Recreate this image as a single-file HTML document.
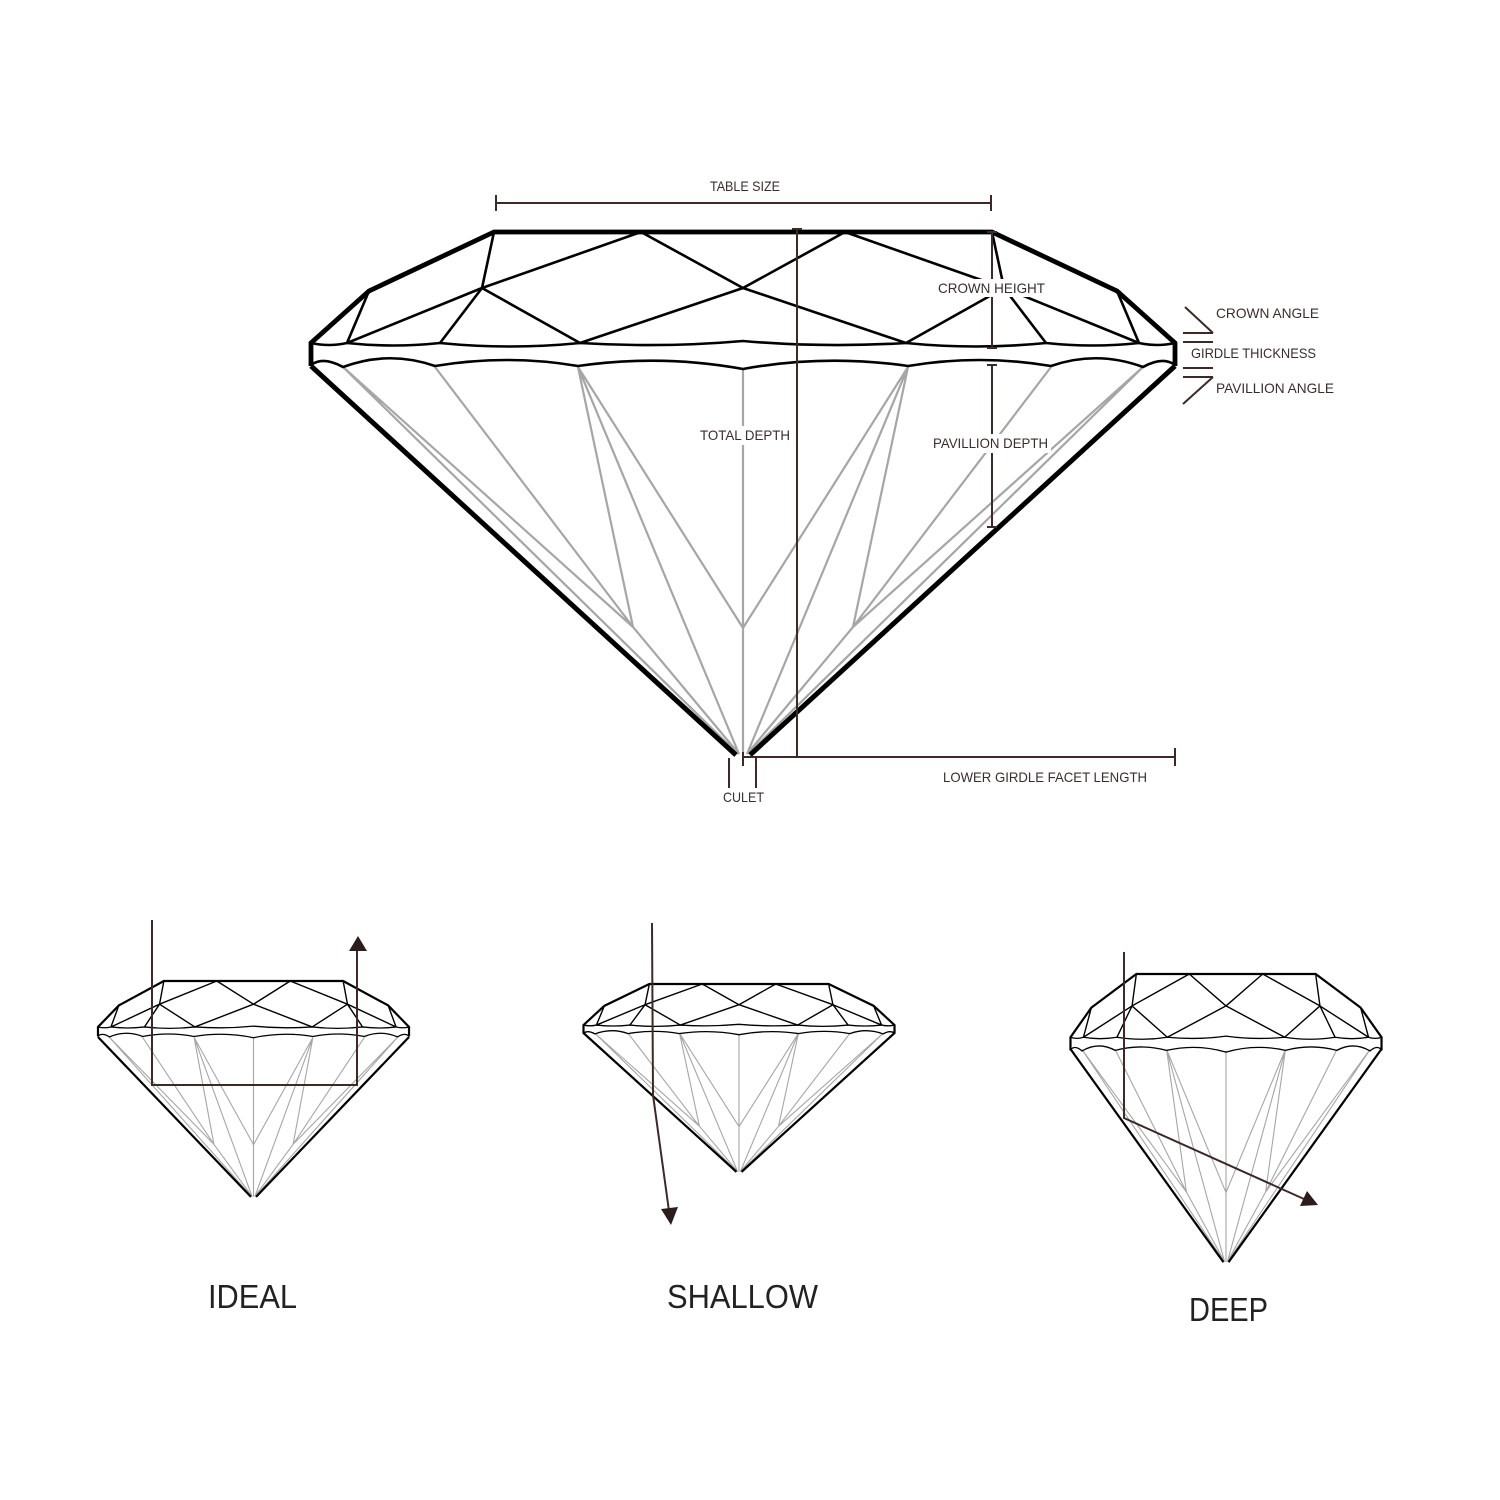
<!DOCTYPE html>
<html>
<head>
<meta charset="utf-8">
<style>
html,body{margin:0;padding:0;background:#fff;}
svg{display:block;}
.ol{fill:none;stroke:#000;stroke-linejoin:miter;stroke-miterlimit:6;vector-effect:non-scaling-stroke;}
.in{fill:none;stroke:#000;stroke-linejoin:round;vector-effect:non-scaling-stroke;}
.gr{fill:none;stroke:#a6a6a6;stroke-linejoin:round;vector-effect:non-scaling-stroke;}
.dim{fill:none;stroke:#3b2a27;stroke-width:2;}
.lbl{font-family:"Liberation Sans",sans-serif;font-size:14px;fill:#3a2e2c;}
.big{font-family:"Liberation Sans",sans-serif;font-size:33px;fill:#222;}
</style>
</head>
<body>
<svg width="1500" height="1500" viewBox="0 0 1500 1500" xmlns="http://www.w3.org/2000/svg">
<rect width="1500" height="1500" fill="#fff"/>

<!-- ============ MAIN DIAMOND ============ -->
<g transform="translate(743,366)">
  <path class="gr" stroke-width="2.2" d="M-400,1 L-110,261 L-4,388 M-400,1 L-6,387 M-308,1 L-110,261 M-165,1 L-110,261 M-165,1 L-4,388 M-165,1 L0,262 M0,3 L0,389 M0,262 L165,1 M165,1 L110,261 M165,1 L4,388 M308,1 L110,261 M400,1 L110,261 L4,388 M400,1 L6,387"/>
  <path class="ol" stroke-width="5" d="M-432,0 L-7,389 M7,389 L432,0"/>
</g>
<g transform="translate(743,232)">
  <path class="in" stroke-width="2.6" d="M-249,0 L-261,56 L-303,111 M-102,0 L-261,56 L-396,111 M-374,59 L-396,111 M-102,0 L0,56 L102,0 M-261,56 L-163,111 L0,56 L163,111 L261,56 M102,0 L261,56 L396,111 M249,0 L261,56 L303,111 M374,59 L396,111"/>
  <path class="in" stroke-width="2.6" d="M-432,111 Q-414,115 -396,111 Q-350,116 -303,111 Q-233,118 -163,111 Q-80,116 0,109 Q80,116 163,111 Q233,118 303,111 Q350,116 396,111 Q414,115 432,111 M-432,133 Q-420,124 -400,135 Q-354,118 -308,134 Q-236,122 -165,134 Q-82,122 0,137 Q82,122 165,134 Q236,122 308,134 Q354,118 400,135 Q420,124 432,133"/>
  <path class="ol" stroke-width="4.8" d="M-432,134 L-432,111 L-374,59 L-249,0 L249,0 L374,59 L432,111 L432,134"/>
</g>

<!-- dimension lines -->
<path class="dim" d="M496,203 L991,203 M496,195 L496,211 M991,195 L991,211"/>
<path class="dim" d="M797,229 L797,757 M792,229 L802,229"/>
<path class="dim" d="M743,757 L1175,757 M1175,748 L1175,766 M743,752 L743,766"/>
<path class="dim" d="M992,232 L992,348 M987,232 L997,232 M987,348 L997,348"/>
<path class="dim" d="M992,365 L992,527 M987,365 L997,365 M987,527 L997,527"/>
<path class="dim" stroke-width="1.6" d="M729,758 L729,788 M756,758 L756,788"/>
<path class="dim" stroke-width="1.5" d="M1185,307 L1213,333 M1183,333 L1213,333 M1183,342 L1213,342 M1183,368 L1213,368 M1183,377 L1213,377 M1213,377 L1183,404"/>

<!-- label backgrounds -->
<rect x="936" y="279" width="112" height="18" fill="#fff"/>
<rect x="697" y="426" width="96" height="19" fill="#fff"/>
<rect x="930" y="434" width="121" height="19" fill="#fff"/>

<!-- labels -->
<text class="lbl" x="710" y="191" textLength="70" lengthAdjust="spacingAndGlyphs">TABLE SIZE</text>
<text class="lbl" x="938" y="293" textLength="107" lengthAdjust="spacingAndGlyphs">CROWN HEIGHT</text>
<text class="lbl" x="700" y="440" textLength="90" lengthAdjust="spacingAndGlyphs">TOTAL DEPTH</text>
<text class="lbl" x="933" y="448" textLength="115" lengthAdjust="spacingAndGlyphs">PAVILLION DEPTH</text>
<text class="lbl" x="943" y="782" textLength="204" lengthAdjust="spacingAndGlyphs">LOWER GIRDLE FACET LENGTH</text>
<text class="lbl" x="723" y="802" textLength="41" lengthAdjust="spacingAndGlyphs">CULET</text>
<text class="lbl" x="1216" y="318" textLength="103" lengthAdjust="spacingAndGlyphs">CROWN ANGLE</text>
<text class="lbl" x="1191" y="358" textLength="125" lengthAdjust="spacingAndGlyphs">GIRDLE THICKNESS</text>
<text class="lbl" x="1216" y="393" textLength="118" lengthAdjust="spacingAndGlyphs">PAVILLION ANGLE</text>

<!-- ============ IDEAL ============ -->
<g transform="translate(253.5,1037) scale(0.36,0.411)">
  <path class="gr" stroke-width="1.1" d="M-400,1 L-110,261 L-4,388 M-400,1 L-6,387 M-308,1 L-110,261 M-165,1 L-110,261 M-165,1 L-4,388 M-165,1 L0,262 M0,3 L0,389 M0,262 L165,1 M165,1 L110,261 M165,1 L4,388 M308,1 L110,261 M400,1 L110,261 L4,388 M400,1 L6,387"/>
  <path class="ol" stroke-width="2.2" d="M-432,0 L-7,389 M7,389 L432,0"/>
</g>
<g transform="translate(253.5,981) scale(0.36,0.414)">
  <path class="in" stroke-width="1.4" d="M-249,0 L-261,56 L-303,111 M-102,0 L-261,56 L-396,111 M-374,59 L-396,111 M-102,0 L0,56 L102,0 M-261,56 L-163,111 L0,56 L163,111 L261,56 M102,0 L261,56 L396,111 M249,0 L261,56 L303,111 M374,59 L396,111"/>
  <path class="in" stroke-width="1.3" d="M-432,111 Q-414,115 -396,111 Q-350,116 -303,111 Q-233,118 -163,111 Q-80,116 0,109 Q80,116 163,111 Q233,118 303,111 Q350,116 396,111 Q414,115 432,111 M-432,133 Q-420,124 -400,135 Q-354,118 -308,134 Q-236,122 -165,134 Q-82,122 0,137 Q82,122 165,134 Q236,122 308,134 Q354,118 400,135 Q420,124 432,133"/>
  <path class="ol" stroke-width="2.2" d="M-432,134 L-432,111 L-374,59 L-249,0 L249,0 L374,59 L432,111 L432,134"/>
</g>
<path class="dim" d="M152,920 L152,1085 L357,1085 L357,950"/>
<polygon points="358,936 349,951 367,951" fill="#2a1d1b"/>

<!-- ============ SHALLOW ============ -->
<g transform="translate(739,1033) scale(0.36,0.357)">
  <path class="gr" stroke-width="1.1" d="M-400,1 L-110,261 L-4,388 M-400,1 L-6,387 M-308,1 L-110,261 M-165,1 L-110,261 M-165,1 L-4,388 M-165,1 L0,262 M0,3 L0,389 M0,262 L165,1 M165,1 L110,261 M165,1 L4,388 M308,1 L110,261 M400,1 L110,261 L4,388 M400,1 L6,387"/>
  <path class="ol" stroke-width="2.2" d="M-432,0 L-7,389 M7,389 L432,0"/>
</g>
<g transform="translate(739,984) scale(0.36,0.37)">
  <path class="in" stroke-width="1.4" d="M-249,0 L-261,56 L-303,111 M-102,0 L-261,56 L-396,111 M-374,59 L-396,111 M-102,0 L0,56 L102,0 M-261,56 L-163,111 L0,56 L163,111 L261,56 M102,0 L261,56 L396,111 M249,0 L261,56 L303,111 M374,59 L396,111"/>
  <path class="in" stroke-width="1.3" d="M-432,111 Q-414,115 -396,111 Q-350,116 -303,111 Q-233,118 -163,111 Q-80,116 0,109 Q80,116 163,111 Q233,118 303,111 Q350,116 396,111 Q414,115 432,111 M-432,133 Q-420,124 -400,135 Q-354,118 -308,134 Q-236,122 -165,134 Q-82,122 0,137 Q82,122 165,134 Q236,122 308,134 Q354,118 400,135 Q420,124 432,133"/>
  <path class="ol" stroke-width="2.2" d="M-432,134 L-432,111 L-374,59 L-249,0 L249,0 L374,59 L432,111 L432,134"/>
</g>
<path class="dim" d="M652,923 L653,1095 L669,1211"/>
<polygon points="671,1225 661,1209 678,1207" fill="#2a1d1b"/>

<!-- ============ DEEP ============ -->
<g transform="translate(1226,1049) scale(0.36,0.548)">
  <path class="gr" stroke-width="1.1" d="M-400,1 L-110,261 L-4,388 M-400,1 L-6,387 M-308,1 L-110,261 M-165,1 L-110,261 M-165,1 L-4,388 M-165,1 L0,262 M0,3 L0,389 M0,262 L165,1 M165,1 L110,261 M165,1 L4,388 M308,1 L110,261 M400,1 L110,261 L4,388 M400,1 L6,387"/>
  <path class="ol" stroke-width="2.2" d="M-432,0 L-7,389 M7,389 L432,0"/>
</g>
<g transform="translate(1226,974) scale(0.36,0.57)">
  <path class="in" stroke-width="1.4" d="M-249,0 L-261,56 L-303,111 M-102,0 L-261,56 L-396,111 M-374,59 L-396,111 M-102,0 L0,56 L102,0 M-261,56 L-163,111 L0,56 L163,111 L261,56 M102,0 L261,56 L396,111 M249,0 L261,56 L303,111 M374,59 L396,111"/>
  <path class="in" stroke-width="1.3" d="M-432,111 Q-414,115 -396,111 Q-350,116 -303,111 Q-233,118 -163,111 Q-80,116 0,109 Q80,116 163,111 Q233,118 303,111 Q350,116 396,111 Q414,115 432,111 M-432,133 Q-420,124 -400,135 Q-354,118 -308,134 Q-236,122 -165,134 Q-82,122 0,137 Q82,122 165,134 Q236,122 308,134 Q354,118 400,135 Q420,124 432,133"/>
  <path class="ol" stroke-width="2.2" d="M-432,134 L-432,111 L-374,59 L-249,0 L249,0 L374,59 L432,111 L432,134"/>
</g>
<path class="dim" d="M1124,952 L1124,1118 L1304,1199"/>
<polygon points="1318,1205 1300,1206 1307,1191" fill="#2a1d1b"/>

<!-- big labels -->
<text class="big" x="208" y="1308" textLength="89" lengthAdjust="spacingAndGlyphs">IDEAL</text>
<text class="big" x="667" y="1308" textLength="151" lengthAdjust="spacingAndGlyphs">SHALLOW</text>
<text class="big" x="1189" y="1321" textLength="79" lengthAdjust="spacingAndGlyphs">DEEP</text>
</svg>
</body>
</html>
